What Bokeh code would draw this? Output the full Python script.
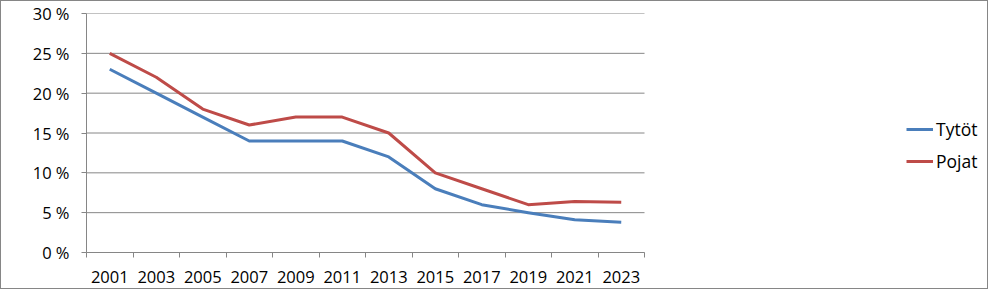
from bokeh.plotting import figure
from bokeh.models import FixedTicker, Legend, LegendItem, ColumnDataSource
from bokeh.embed import file_html
from bokeh.resources import INLINE

years = ["2001", "2003", "2005", "2007", "2009", "2011",
         "2013", "2015", "2017", "2019", "2021", "2023"]
tytot = [23, 20, 17, 14, 14, 14, 12, 8, 6, 5, 4.1, 3.8]
pojat = [25, 22, 18, 16, 17, 17, 15, 10, 8, 6, 6.4, 6.3]
y_ticks = [0, 5, 10, 15, 20, 25, 30]
y_labels = ["0 %", "5 %", "10 %", "15 %", "20 %", "25 %", "30 %"]

GRAY = "#868686"
FONT = "Open Sans"

n = len(years)
xpos = [i + 0.5 for i in range(n)]
src = ColumnDataSource(data=dict(x=xpos, tytot=tytot, pojat=pojat))

# plot area (categories) is 558 px wide; the frame spans to the right edge
# so that the legend can sit in it; grid and axis are bounded to the categories
FRAME_W = 988 - 85
x_end = n * FRAME_W / 558.0

p = figure(width=988, height=289, x_range=(0, x_end), y_range=(0, 30),
           output_backend="svg", toolbar_location=None,
           min_border_left=85, min_border_right=0,
           min_border_top=12, min_border_bottom=38)
p.styles = {"border": f"1px solid {GRAY}"}
p.outline_line_color = None
p.background_fill_color = "white"
p.border_fill_color = "white"
p.xgrid.visible = False
p.ygrid.visible = False

# horizontal gridlines across the category area only
p.segment(x0=[0] * len(y_ticks), x1=[n] * len(y_ticks), y0=y_ticks, y1=y_ticks,
          line_color=GRAY, line_width=1)

r1 = p.line("x", "tytot", source=src, line_color="#4A7EBB", line_width=3,
            line_join="round")
r2 = p.line("x", "pojat", source=src, line_color="#BE4B48", line_width=3,
            line_join="round")

# x axis: labels at category centres, ticks at category boundaries
xa = p.xaxis[0]
xa.bounds = (0, n)
xa.ticker = FixedTicker(ticks=xpos, minor_ticks=list(range(n + 1)))
xa.major_label_overrides = {x: y for x, y in zip(xpos, years)}
xa.major_tick_out = 0
xa.major_tick_in = 0
xa.minor_tick_out = 5
xa.minor_tick_in = 0
xa.minor_tick_line_color = GRAY
xa.axis_line_color = GRAY
xa.major_label_standoff = 13
xa.major_label_text_font = FONT
xa.major_label_text_font_size = "16.5px"
xa.major_label_text_color = "black"

ya = p.yaxis[0]
ya.ticker = FixedTicker(ticks=y_ticks, minor_ticks=[])
ya.major_label_overrides = {t: l for t, l in zip(y_ticks, y_labels)}
ya.major_tick_out = 5
ya.major_tick_in = 0
ya.major_tick_line_color = GRAY
ya.axis_line_color = GRAY
ya.minor_tick_line_color = None
ya.major_label_standoff = 12
ya.major_label_text_font = FONT
ya.major_label_text_font_size = "16.5px"
ya.major_label_text_color = "black"

legend = Legend(items=[LegendItem(label="Tytöt", renderers=[r1]),
                       LegendItem(label="Pojat", renderers=[r2])],
                location=(820, 79), orientation="vertical",
                border_line_color=None, background_fill_alpha=0,
                padding=0, margin=0, glyph_width=27, glyph_height=20,
                label_height=20, label_standoff=3, spacing=8,
                label_text_font=FONT, label_text_font_size="17.5px",
                label_text_color="black")
p.add_layout(legend)

open("out.html", "w").write(file_html(p, INLINE))
